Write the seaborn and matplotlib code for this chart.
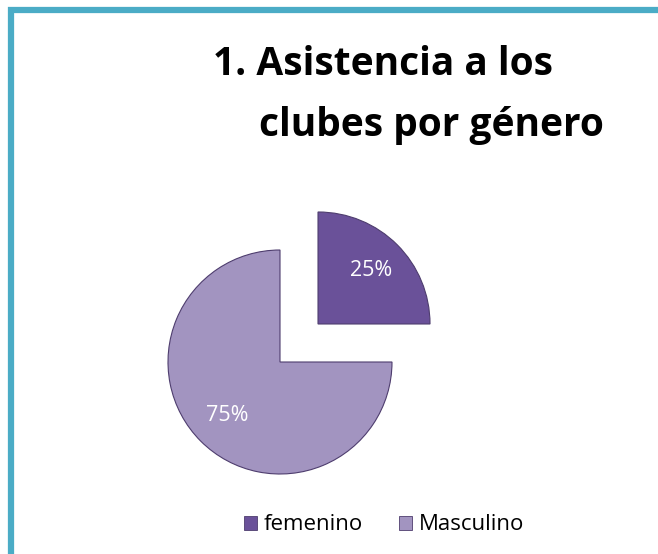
import matplotlib
matplotlib.use('Agg')
import matplotlib.pyplot as plt
from matplotlib.patches import Rectangle, Patch
import seaborn as sns

# Data
categories = ['femenino', 'Masculino']
values = [25, 75]
colors = ['#6a5199', '#a294c0']

sns.set_theme(style='white')
plt.rcParams['font.family'] = ['Open Sans', 'DejaVu Sans']

W, H = 658, 554
R = 112.0          # pie radius in pixels
cx, cy = 280, 362  # pie centre in image pixels

fig = plt.figure(figsize=(W / 100, H / 100), dpi=100)
fig.patch.set_facecolor('white')

ax = fig.add_axes([0, 0, 1, 1])
wedges, texts, autotexts = ax.pie(
    values,
    explode=[0.48, 0],
    startangle=90,
    counterclock=False,
    colors=colors,
    autopct='%1.0f%%',
    pctdistance=0.67,
    radius=1,
    textprops=dict(color='white', fontsize=15.5),
    wedgeprops=dict(edgecolor='#4e3d6e', linewidth=0.8),
)
ax.set_xlim(-cx / R, (W - cx) / R)
ax.set_ylim(-(H - cy) / R, cy / R)
ax.axis('off')

# Title (two lines, second one indented)
fig.text(213 / W, 1 - 75 / H, '1. Asistencia a los', ha='left', va='baseline',
         fontsize=28, fontweight='bold', color='black')
fig.text(259 / W, 1 - 136 / H, 'clubes por género', ha='left', va='baseline',
         fontsize=28, fontweight='bold', color='black')

# Legend at the bottom
handles = [Patch(facecolor=c, edgecolor='#4e3d6e', linewidth=0.6) for c in colors]
fig.legend(handles, categories, loc='center', bbox_to_anchor=(384 / W, 1 - 525 / H),
           ncol=2, frameon=False, fontsize=16, labelcolor='black',
           handlelength=0.6, handleheight=0.6, handletextpad=0.3, columnspacing=1.6)

# Teal frame (cut at right and bottom)
fig.patches.append(Rectangle((11 / W, -0.5), 2, 1.5 - 10 / H, transform=fig.transFigure,
                             fill=False, edgecolor='#4bacc6', linewidth=4.5))

fig.savefig('out.png', dpi=100)
